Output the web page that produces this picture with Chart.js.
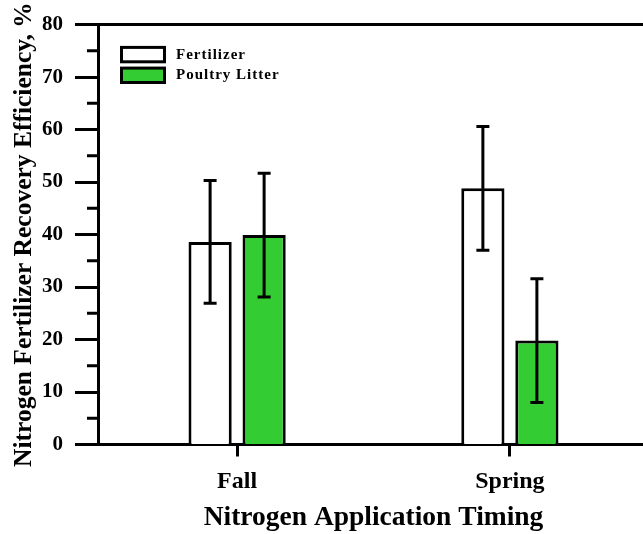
<!DOCTYPE html>
<html>
<head>
<meta charset="utf-8">
<script src="https://cdn.jsdelivr.net/npm/chart.js@4/dist/chart.umd.min.js"></script>
<style>
  html, body { margin: 0; padding: 0; background: #fff; overflow: hidden; }
  #wrap { width: 660px; height: 534px; }
</style>
</head>
<body>
<div id="wrap"><canvas id="myChart"></canvas></div>
<script>
// data
var timings = ["Fall", "Spring"];
var fertilizer = [38.6, 48.8];
var fertilizerErr = [11.7, 11.8];
var poultryLitter = [39.9, 19.8];
var poultryLitterErr = [11.8, 11.8];
var yTicks = [0, 10, 20, 30, 40, 50, 60, 70, 80];

const FONT = "'Liberation Serif', 'Times New Roman', serif";

// error bars, minor ticks, top frame line and the legend box
const extras = {
  id: "extras",
  afterDatasetsDraw(chart) {
    const ctx = chart.ctx;
    const y = chart.scales.y;
    ctx.save();
    ctx.strokeStyle = "#000";
    ctx.lineWidth = 3;
    chart.data.datasets.forEach((ds, i) => {
      const meta = chart.getDatasetMeta(i);
      meta.data.forEach((bar, j) => {
        const v = ds.data[j].y, e = ds.errors[j];
        const top = y.getPixelForValue(v + e), bot = y.getPixelForValue(v - e);
        ctx.beginPath();
        ctx.moveTo(bar.x, top); ctx.lineTo(bar.x, bot);
        ctx.moveTo(bar.x - 6.5, top); ctx.lineTo(bar.x + 6.5, top);
        ctx.moveTo(bar.x - 6.5, bot); ctx.lineTo(bar.x + 6.5, bot);
        ctx.stroke();
      });
    });
    ctx.restore();
  },
  afterDraw(chart) {
    const ctx = chart.ctx;
    const area = chart.chartArea;
    const y = chart.scales.y;
    ctx.save();
    ctx.strokeStyle = "#000";
    ctx.lineWidth = 3;
    // top frame
    ctx.beginPath();
    ctx.moveTo(area.left - 1.5, area.top);
    ctx.lineTo(area.right, area.top);
    ctx.stroke();
    // minor ticks halfway between labelled ticks
    ctx.beginPath();
    for (let k = 0; k < y.ticks.length - 1; k++) {
      const mid = (y.ticks[k].value + y.ticks[k + 1].value) / 2;
      const py = y.getPixelForValue(mid);
      ctx.moveTo(area.left - 11, py);
      ctx.lineTo(area.left, py);
    }
    ctx.stroke();
    // legend
    let ly = area.top + 22.8;
    ctx.font = "bold 15px " + FONT;
    ctx.letterSpacing = "1px";
    ctx.textBaseline = "middle";
    chart.data.datasets.forEach((ds) => {
      ctx.fillStyle = ds.backgroundColor;
      ctx.fillRect(area.left + 23.5, ly, 43, 14.4);
      ctx.strokeRect(area.left + 23.5, ly, 43, 14.4);
      ctx.fillStyle = "#000";
      ctx.fillText(ds.label, area.left + 78, ly + 7.5);
      ly += 20.7;
    });
    ctx.restore();
  }
};

new Chart(document.getElementById("myChart"), {
  type: "bar",
  data: {
    datasets: [
      {
        label: "Fertilizer",
        data: fertilizer.map((v, i) => ({ x: i + 1, y: v })),
        errors: fertilizerErr,
        backgroundColor: "#ffffff",
        borderColor: "#000",
        borderWidth: 3
      },
      {
        label: "Poultry Litter",
        data: poultryLitter.map((v, i) => ({ x: i + 1, y: v })),
        errors: poultryLitterErr,
        backgroundColor: "#33cc33",
        borderColor: "#000",
        borderWidth: 3
      }
    ]
  },
  options: {
    responsive: true,
    maintainAspectRatio: false,
    animation: false,
    categoryPercentage: 0.396,
    barPercentage: 0.8,
    layout: { padding: { top: 23, right: 11, left: 0, bottom: 0 } },
    plugins: { legend: { display: false }, tooltip: { enabled: false } },
    scales: {
      x: {
        type: "linear",
        offset: false,
        min: 0.49,
        max: 2.51,
        afterBuildTicks: (s) => { s.ticks = timings.map((t, i) => ({ value: i + 1 })); },
        afterFit: (s) => { s.height = 89.5; },
        grid: { offset: false, drawOnChartArea: false, tickLength: 12, tickWidth: 3, tickColor: "#000" },
        border: { color: "#000", width: 3 },
        ticks: {
          padding: 11,
          color: "#000",
          font: { family: FONT, size: 24, weight: "bold" },
          callback: (v) => timings[v - 1]
        },
        title: {
          display: true,
          text: "Nitrogen Application Timing",
          color: "#000",
          font: { family: FONT, size: 27.5, weight: "bold" },
          padding: { top: 0, bottom: 0 }
        }
      },
      y: {
        min: 0,
        max: 80,
        afterBuildTicks: (s) => { s.ticks = yTicks.map((v) => ({ value: v })); },
        afterFit: (s) => { s.width = 98; },
        grid: { drawOnChartArea: false, tickLength: 23, tickWidth: 3, tickColor: "#000" },
        border: { color: "#000", width: 3 },
        ticks: {
          padding: 12,
          color: "#000",
          font: { family: FONT, size: 21, weight: "bold" }
        },
        title: {
          display: true,
          text: "Nitrogen Fertilizer Recovery Efficiency, %",
          color: "#000",
          font: { family: FONT, size: 25.5, weight: "bold" },
          padding: { top: 9, bottom: 0 }
        }
      }
    }
  },
  plugins: [extras]
});
</script>
</body>
</html>
